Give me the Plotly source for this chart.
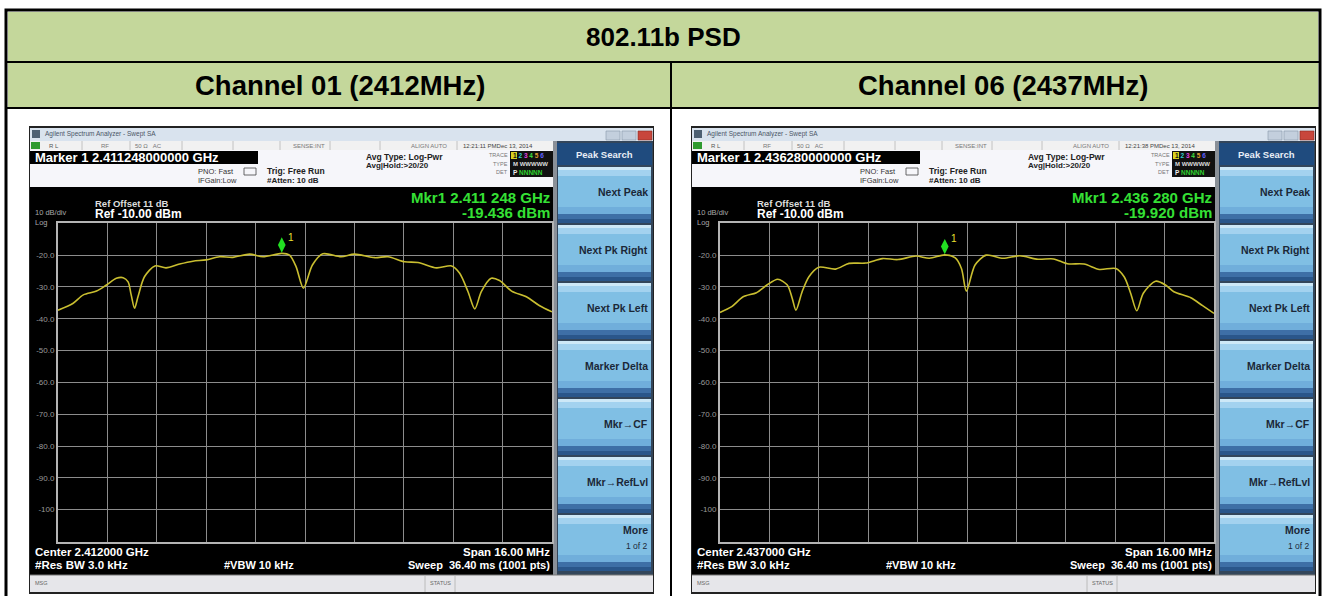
import plotly.graph_objects as go

W, H = 1324, 596
FONT = "Liberation Sans, Arial, sans-serif"

# ---------------- data ----------------
table_title = "802.11b PSD"
channel_titles = ["Channel 01 (2412MHz)", "Channel 06 (2437MHz)"]
center_ghz = [2.412, 2.437]
span_mhz = 16.0
ref_level_dbm = -10.0
db_per_div = 10.0

ch01_offset_mhz = [-8.0, -7.52, -7.18, -6.75, -6.43, -6.11, -5.89, -5.73, -5.63, -5.52,
                   -5.41, -5.20, -4.86, -4.50, -4.06, -3.63, -3.20, -2.77, -2.34, -1.79,
                   -1.36, -0.752, -0.50, -0.29, -0.05, 0.24, 0.58, 1.17, 1.60, 2.26,
                   2.69, 3.23, 3.66, 4.26, 4.75, 5.01, 5.28, 5.50, 5.71, 6.03,
                   6.30, 6.69, 7.17, 7.60, 8.0]
ch01_dbm = [-37.3, -35.2, -32.5, -31.3, -29.4, -27.3, -27.1, -28.4, -32.5, -36.7,
            -33.1, -26.8, -23.4, -24.0, -22.8, -21.9, -21.5, -20.5, -20.7, -19.7,
            -20.5, -19.436, -20.0, -23.6, -30.4, -23.1, -19.6, -20.5, -19.7, -20.8,
            -20.5, -22.1, -22.3, -24.0, -23.4, -25.7, -31.5, -36.9, -31.5, -27.3,
            -28.0, -31.3, -33.1, -35.9, -37.8]

ch06_offset_mhz = [-8.0, -7.62, -7.25, -6.82, -6.48, -6.13, -5.82, -5.66, -5.54, -5.34,
                   -5.12, -4.80, -4.26, -3.82, -3.28, -2.74, -2.24, -1.65, -1.22, -0.72,
                   -0.38, -0.18, -0.02, 0.26, 0.62, 1.17, 1.71, 2.30, 2.80, 3.25,
                   3.79, 4.29, 4.82, 5.09, 5.30, 5.50, 5.71, 6.11, 6.43, 6.70,
                   7.25, 7.63, 8.0]
ch06_dbm = [-38.0, -36.2, -33.1, -31.8, -29.4, -27.6, -29.4, -33.6, -37.3, -31.5,
            -26.8, -23.8, -24.4, -22.6, -22.5, -21.1, -21.4, -20.3, -21.0, -19.92,
            -20.9, -24.2, -31.3, -23.1, -20.0, -21.0, -20.2, -21.3, -21.2, -22.7,
            -22.8, -24.5, -24.2, -26.8, -32.0, -37.5, -32.0, -28.2, -29.4, -31.5,
            -33.4, -35.9, -38.3]

marker_ghz = [2.411248, 2.436280]
marker_dbm = [-19.436, -19.920]
marker_headers = ["Marker 1 2.411248000000 GHz", "Marker 1 2.436280000000 GHz"]
marker_freq_labels = ["Mkr1 2.411 248 GHz", "Mkr1 2.436 280 GHz"]
marker_level_labels = ["-19.436 dBm", "-19.920 dBm"]
center_labels = ["Center 2.412000 GHz", "Center 2.437000 GHz"]
timestamps = ["12:21:11 PMDec 13, 2014", "12:21:38 PMDec 13, 2014"]

y_tick_vals = [-20, -30, -40, -50, -60, -70, -80, -90, -100]
y_tick_labels = ["-20.0", "-30.0", "-40.0", "-50.0", "-60.0", "-70.0", "-80.0", "-90.0", "-100"]

softkeys = ["Next Peak", "Next Pk Right", "Next Pk Left", "Marker Delta",
            "Mkr\u2192CF", "Mkr\u2192RefLvl", "More"]

traces_offset = [ch01_offset_mhz, ch06_offset_mhz]
traces_dbm = [ch01_dbm, ch06_dbm]

# ---------------- helpers ----------------
def px(x):
    return x / W


def py(y):
    return 1 - y / H


shapes = []
annotations = []


def rect(x0, y0, x1, y1, fill, line_color=None, lw=0, layer="below"):
    shapes.append(dict(type="rect", xref="paper", yref="paper",
                       x0=px(x0), x1=px(x1), y0=py(y1), y1=py(y0),
                       fillcolor=fill, line=dict(color=line_color or fill, width=lw),
                       layer=layer))


def line(x0, y0, x1, y1, color, w=1, layer="below"):
    shapes.append(dict(type="line", xref="paper", yref="paper",
                       x0=px(x0), x1=px(x1), y0=py(y0), y1=py(y1),
                       line=dict(color=color, width=w), layer=layer))


def text(x, y, s, size, color, bold=False, xanchor="left", yanchor="middle"):
    annotations.append(dict(x=px(x), y=py(y), xref="paper", yref="paper",
                            text=f"<b>{s}</b>" if bold else s, showarrow=False,
                            font=dict(size=size, color=color, family=FONT),
                            xanchor=xanchor, yanchor=yanchor, borderpad=0))


# ---------------- table frame ----------------
GREEN = "#c4d79b"
rect(6, 10, 1320, 600, "white", "black", 3)
rect(8, 12, 1318, 62, GREEN)
rect(8, 63, 1318, 107, GREEN)
line(6, 62, 1320, 62, "black", 2)
line(6, 108, 1320, 108, "black", 2)
line(671, 62, 671, 600, "black", 2)
text(663, 37, table_title, 26, "black", bold=True, xanchor="center")
text(340, 86, channel_titles[0], 27.5, "black", bold=True, xanchor="center")
text(1003, 86, channel_titles[1], 27.5, "black", bold=True, xanchor="center")

fig = go.Figure()


def draw_screen(i, ox):
    X = lambda v: v + ox
    # frame
    rect(X(29), 126, X(654), 594, "#222222")
    # title bar
    rect(X(30), 128, X(653), 141, "#d9e3ee")
    rect(X(32), 130, X(40), 138, "#4d6072")
    text(X(44), 134.5, "Agilent Spectrum Analyzer - Swept SA", 6.5, "#4a5566")
    rect(X(606), 131, X(620), 140, "#c3cfdd", "#8898aa", 0.6)
    rect(X(622), 131, X(636), 140, "#c3cfdd", "#8898aa", 0.6)
    rect(X(638), 131, X(652), 140, "#c8463c", "#8a2a20", 0.6)
    # status row
    rect(X(30), 141, X(553), 150, "#f1f1f1")
    rect(X(31), 142, X(40), 149, "#2f9a2f")
    for cx in [82, 130, 182, 233, 280, 330, 380, 457]:
        line(X(cx), 141, X(cx), 150, "#b8b8b8", 0.8)
    text(X(48), 145.5, "R L", 6, "#555")
    text(X(100), 145.5, "RF", 6, "#777")
    text(X(134), 145.5, "50 \u03a9   AC", 6, "#777")
    text(X(292), 145.5, "SENSE:INT", 6, "#777")
    text(X(410), 145.5, "ALIGN AUTO", 6, "#777")
    text(X(462), 145.5, timestamps[i], 6, "#444")
    # info panel
    rect(X(30), 150, X(553), 187, "#f6f6fa")
    rect(X(30), 151, X(258), 164, "black")
    text(X(34), 157.8, marker_headers[i], 13, "white", bold=True)
    text(X(197), 171, "PNO: Fast", 7.5, "#333")
    text(X(197), 180, "IFGain:Low", 7.5, "#333")
    rect(X(244), 168, X(256), 175, "#f6f6fa", "#444", 0.8)
    text(X(266), 171, "Trig: Free Run", 8.5, "#222", bold=True)
    text(X(266), 180.5, "#Atten: 10 dB", 8, "#222", bold=True)
    text(X(365), 156.5, "Avg Type: Log-Pwr", 8.5, "#222", bold=True)
    text(X(365), 165.5, "Avg|Hold:&gt;20/20", 8, "#222", bold=True)
    text(X(509), 155, "TRACE", 5.5, "#777", xanchor="right")
    text(X(509), 163.5, "TYPE", 5.5, "#777", xanchor="right")
    text(X(509), 172, "DET", 5.5, "#777", xanchor="right")
    rect(X(510), 151, X(554), 177, "#111111")
    rect(X(511), 152, X(517), 159, "#d8d020")
    text(X(512), 155.5,
         '<span style="color:#111">1</span> <span style="color:#30d0d0">2</span> '
         '<span style="color:#e040e0">3</span> <span style="color:#40e040">4</span> '
         '<span style="color:#e0a030">5</span> <span style="color:#6060ff">6</span>',
         6.5, "#ddd", bold=True)
    text(X(512), 164, "M WWWWW", 6, "#dddddd", bold=True)
    text(X(512), 172.5, '<span style="color:#eee">P</span> NNNNN', 6.5, "#30d030", bold=True)
    # display
    rect(X(30), 187, X(553), 575, "black")
    text(X(551), 197.5, marker_freq_labels[i], 15, "#35e035", bold=True, xanchor="right")
    text(X(551), 212.5, marker_level_labels[i], 15, "#35e035", bold=True, xanchor="right")
    text(X(94), 203, "Ref Offset 11 dB", 9.5, "#dddddd", bold=True)
    text(X(94), 214, "Ref -10.00 dBm", 12, "white", bold=True)
    text(X(34), 212.5, "10 dB/div", 7.5, "#a8a8a8")
    text(X(34), 222.5, "Log", 7.5, "#a8a8a8")
    text(X(34), 551.5, center_labels[i], 11.5, "white", bold=True)
    text(X(34), 564.5, "#Res BW 3.0 kHz", 11.5, "white", bold=True)
    text(X(223), 564.5, "#VBW 10 kHz", 11, "white", bold=True)
    text(X(551), 551.5, "Span 16.00 MHz", 11.5, "white", bold=True, xanchor="right")
    text(X(551), 564.5, "Sweep  36.40 ms (1001 pts)", 11, "white", bold=True, xanchor="right")
    # softkey panel
    rect(X(553), 141, X(557), 575, "#8a9098")
    rect(X(557), 141, X(653), 575, "#33465b")
    rect(X(557), 143, X(652), 165, "#1f4b7e")
    text(X(604.5), 154, "Peak Search", 9.5, "#e8eef6", bold=True, xanchor="center")
    for k, lab in enumerate(softkeys):
        y0 = 167 + 58 * k
        y1 = y0 + 56
        rect(X(558), y0, X(651), y1, "#80bfe4")
        rect(X(558), y0, X(651), y0 + 3, "#cde8f7")
        rect(X(558), y0 + 3, X(651), y0 + 9, "#a3d2ef")
        rect(X(558), y1 - 16, X(651), y1 - 9, "#70aedb")
        rect(X(558), y1 - 9, X(651), y1 - 4, "#3e6fa6")
        rect(X(558), y1 - 4, X(651), y1, "#2a568a")
        if lab == "More":
            text(X(649), y0 + 15, "More", 10.5, "#1b2838", bold=True, xanchor="right")
            text(X(649), y0 + 31, "1 of 2", 8.5, "#1b2838", xanchor="right")
        else:
            text(X(649), y0 + 25, lab, 10.5, "#1b2838", bold=True, xanchor="right")
    # message bar
    rect(X(30), 575, X(653), 592, "#e6e6ea")
    line(X(30), 575, X(653), 575, "#777", 1)
    line(X(425), 575, X(425), 592, "#b0b0b0", 0.8)
    line(X(455), 575, X(455), 592, "#b0b0b0", 0.8)
    text(X(34), 583, "MSG", 5.5, "#666")
    text(X(440), 583, "STATUS", 5.5, "#666", xanchor="center")

    # spectrum trace
    sfx = "" if i == 0 else str(i + 1)
    fig.add_trace(go.Scatter(
        x=traces_offset[i], y=traces_dbm[i], mode="lines",
        line=dict(color="#c9be30", width=1.6, shape="spline", smoothing=0.8),
        xaxis="x" + sfx, yaxis="y" + sfx, showlegend=False, hoverinfo="skip"))
    mk_off = (marker_ghz[i] - center_ghz[i]) * 1000.0
    fig.add_trace(go.Scatter(
        x=[mk_off], y=[marker_dbm[i] + 2.6], mode="markers",
        marker=dict(symbol="diamond-tall", size=11, color="#22e022", line=dict(width=0)),
        xaxis="x" + sfx, yaxis="y" + sfx, showlegend=False, hoverinfo="skip"))
    annotations.append(dict(x=mk_off, y=marker_dbm[i], xref="x" + sfx, yref="y" + sfx,
                            text="1", showarrow=False, xshift=9, yshift=16,
                            font=dict(size=10, color="#e8e030", family=FONT)))
    ax = dict(domain=[px(X(58)), px(X(552))],
              range=[-span_mhz / 2, span_mhz / 2], tick0=-span_mhz / 2, dtick=span_mhz / 10,
              showgrid=True, gridcolor="#8c8c8c", gridwidth=1, zeroline=False,
              showticklabels=False, ticks="", showline=True, linecolor="#b4b4b4",
              linewidth=2, mirror=True, fixedrange=True, anchor="y" + sfx)
    ay = dict(domain=[py(541.5), py(223.3)],
              range=[ref_level_dbm - 10 * db_per_div, ref_level_dbm],
              tickvals=y_tick_vals, ticktext=y_tick_labels, ticks="",
              tickfont=dict(size=8, color="#9a9a9a", family=FONT),
              showgrid=True, gridcolor="#8c8c8c", gridwidth=1, zeroline=False,
              showline=True, linecolor="#b4b4b4", linewidth=2, mirror=True,
              fixedrange=True, anchor="x" + sfx)
    fig.update_layout(**{"xaxis" + sfx: ax, "yaxis" + sfx: ay})


draw_screen(0, 0)
draw_screen(1, 662)

fig.update_layout(width=W, height=H, margin=dict(l=0, r=0, t=0, b=0),
                  paper_bgcolor="white", plot_bgcolor="black",
                  shapes=shapes, annotations=annotations, showlegend=False,
                  font=dict(family=FONT))
fig.write_html("out.html", config={"displayModeBar": False},
               post_script="document.body.style.margin='0px';"
                           "document.body.style.overflow='hidden';")
